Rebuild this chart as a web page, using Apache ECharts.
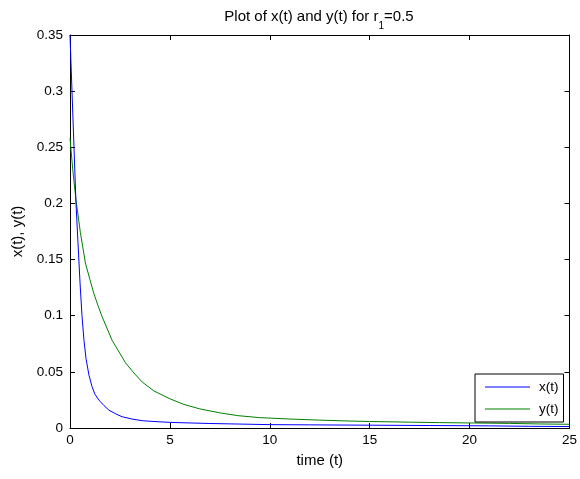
<!DOCTYPE html>
<html>
<head>
<meta charset="utf-8">
<script src="https://cdn.jsdelivr.net/npm/echarts@6/dist/echarts.min.js"></script>
<style>html,body{margin:0;padding:0;background:#fff;}#c{width:580px;height:479px;}</style>
</head>
<body>
<div id="c"></div>
<script>
const tX = [0, 0.1, 0.2, 0.3, 0.4, 0.5, 0.6, 0.7, 0.8, 0.95, 1.1, 1.25, 1.44, 1.7, 1.94, 2.3, 2.61, 3.1, 3.61, 4.2, 5, 6, 7, 8.5, 10, 12, 15, 18, 21, 23, 25];
const xVals = [0.35, 0.30, 0.25, 0.20, 0.165, 0.13, 0.10, 0.078, 0.062, 0.047, 0.037, 0.030, 0.025, 0.020, 0.016, 0.0125, 0.010, 0.008, 0.0065, 0.0058, 0.005, 0.0045, 0.004, 0.0035, 0.003, 0.0028, 0.0025, 0.0022, 0.0019, 0.0015, 0.0013];
const tY = [0, 0.15, 0.3, 0.52, 0.77, 1.0, 1.19, 1.4, 1.61, 2.11, 2.78, 3.2, 3.61, 4.2, 5, 5.7, 6.5, 7.5, 8.4, 9.5, 11, 12.5, 14, 15, 17, 18.5, 20, 22, 23.5, 25];
const yVals = [0.258, 0.228, 0.203, 0.174, 0.147, 0.132, 0.120, 0.109, 0.099, 0.078, 0.058, 0.049, 0.041, 0.033, 0.026, 0.021, 0.017, 0.0135, 0.0110, 0.0092, 0.0080, 0.0070, 0.0062, 0.0058, 0.0052, 0.0048, 0.0045, 0.0041, 0.0036, 0.0033];
const seriesNames = ['x(t)', 'y(t)'];
const titleText = '{main|Plot of x(t) and y(t) for r}{sub|1}{main|=0.5}';
const xName = 'time (t)';
const yName = 'x(t), y(t)';

const font = 'Liberation Sans, Arial, sans-serif';
const chart = echarts.init(document.getElementById('c'), null, {renderer: 'canvas'});
const axisLine = {show: true, onZero: false, lineStyle: {color: '#000', width: 1}};
const tick = {show: true, inside: true, length: 5, lineStyle: {color: '#000'}};
const label = {color: '#000', fontSize: 13.5, fontFamily: font};
const nameStyle = {color: '#000', fontSize: 15, fontFamily: font};
chart.setOption({
  animation: false,
  backgroundColor: '#fff',
  title: {
    text: titleText,
    left: 314, top: 4, textAlign: 'center',
    textStyle: {
      color: '#000', fontSize: 15, fontWeight: 'normal', fontFamily: font,
      rich: {
        main: {fontSize: 15, lineHeight: 18, verticalAlign: 'top', fontFamily: font, color: '#000'},
        sub: {fontSize: 10, lineHeight: 12, verticalAlign: 'top', padding: [12, 0, 0, 0], fontFamily: font, color: '#000'}
      }
    }
  },
  grid: {left: 70, right: 9, top: 35, bottom: 51},
  legend: {
    orient: 'vertical', left: 475, top: 374,
    data: seriesNames,
    icon: 'path://M0,0 L45,0 L45,1 L0,1 Z',
    symbolKeepAspect: true,
    backgroundColor: '#fff', borderColor: '#000', borderWidth: 1, borderRadius: 0,
    padding: [6, 5, 6, 10],
    itemWidth: 45, itemHeight: 14, itemGap: 8,
    textStyle: {color: '#000', fontSize: 13.5, lineHeight: 14, fontFamily: font, padding: [0, 0, 0, 4]}
  },
  xAxis: [
    {type: 'value', position: 'bottom', min: 0, max: 25, interval: 5,
     name: xName, nameLocation: 'middle', nameGap: 25, nameTextStyle: nameStyle,
     axisLine: axisLine, axisTick: tick, axisLabel: Object.assign({margin: 5}, label), splitLine: {show: false}},
    {type: 'value', position: 'top', min: 0, max: 25, interval: 5,
     axisLine: axisLine, axisTick: tick, axisLabel: {show: false}, splitLine: {show: false}}
  ],
  yAxis: [
    {type: 'value', position: 'left', min: 0, max: 0.35, interval: 0.05,
     name: yName, nameLocation: 'middle', nameGap: 41, nameRotate: 90, nameTextStyle: nameStyle,
     axisLine: axisLine, axisTick: tick, axisLabel: Object.assign({margin: 7}, label), splitLine: {show: false}},
    {type: 'value', position: 'right', min: 0, max: 0.35, interval: 0.05,
     axisLine: axisLine, axisTick: tick, axisLabel: {show: false}, splitLine: {show: false}}
  ],
  series: [
    {name: seriesNames[0], type: 'line', symbol: 'none', smooth: false,
     data: tX.map((t, i) => [t, xVals[i]]),
     lineStyle: {color: '#0000ff', width: 1}, itemStyle: {color: '#0000ff'}, z: 3},
    {name: seriesNames[1], type: 'line', symbol: 'none', smooth: false,
     data: tY.map((t, i) => [t, yVals[i]]),
     lineStyle: {color: '#008000', width: 1}, itemStyle: {color: '#008000'}, z: 2}
  ]
});
</script>
</body>
</html>
